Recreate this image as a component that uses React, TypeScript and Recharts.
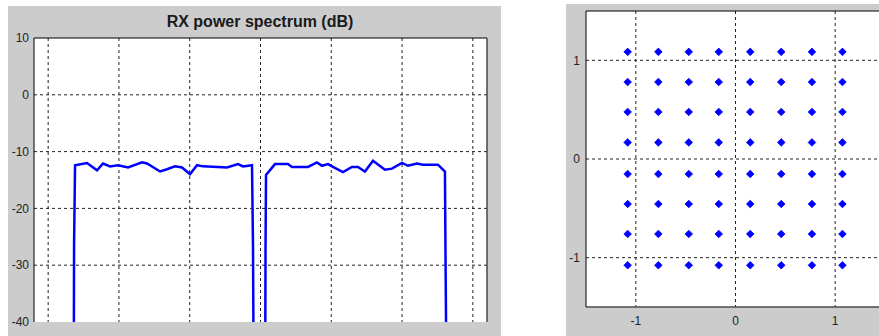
import {
  CartesianGrid,
  Line,
  LineChart,
  ReferenceLine,
  Scatter,
  ScatterChart,
  XAxis,
  YAxis
} from "recharts";

// spectrum: frequency (normalised, grid every 1) and power in dB
const freqs = [
  -2.64, -2.634, -2.62, -2.451, -2.309, -2.225, -2.126, -2.013, -1.871, -1.674, -1.603, -1.419,
  -1.321, -1.208, -1.109, -0.996, -0.897, -0.812, -0.473, -0.318, -0.247, -0.12, -0.106, -0.092,
  0.064, 0.071, 0.078, 0.205, 0.388, 0.445, 0.671, 0.798, 0.869, 0.953, 1.024, 1.165, 1.292,
  1.377, 1.476, 1.589, 1.758, 1.857, 1.999, 2.083, 2.21, 2.295, 2.507, 2.606, 2.613, 2.634
];
const powers = [
  -60, -26.5, -12.4, -12.0, -13.3, -12.1, -12.6, -12.4, -12.8, -11.9, -12.1, -13.5,
  -13.1, -12.6, -12.8, -14.0, -12.4, -12.6, -12.8, -12.2, -12.6, -12.4, -26.5, -60,
  -60, -27, -14.1, -12.2, -12.2, -12.7, -12.7, -11.9, -12.5, -12.2, -12.7, -13.6, -12.7,
  -12.7, -13.5, -11.6, -13.2, -13.0, -12.0, -12.5, -12.1, -12.3, -12.3, -13.5, -26.9, -60
];
const freqTicks = [-3, -2, -1, 0, 1, 2, 3];
const dbTicks = [10, 0, -10, -20, -30, -40];
const dbGrid = [0, -10, -20, -30];

// received 64-QAM constellation: in-phase columns, quadrature rows
const iLevels = [-1.082, -0.774, -0.469, -0.168, 0.148, 0.459, 0.767, 1.073];
const qLevels = [1.086, 0.78, 0.477, 0.168, -0.152, -0.456, -0.76, -1.077];
const iqTicks = [-1, 0, 1];

const spectrum = freqs.map((f, i) => ({ f, p: powers[i] }));
const constellation = qLevels.flatMap((q) => iLevels.map((i) => ({ i, q })));

const font = "'Liberation Sans', Arial, sans-serif";
const tickStyle = { fontSize: 12, fill: "#222", fontFamily: font };
const grey = "#cccccc";

export default function App() {
  return (
    <div
      style={{
        position: "fixed",
        left: 0,
        top: 0,
        width: 879,
        height: 336,
        overflow: "hidden",
        background: "#fff",
        fontFamily: font
      }}
    >
      <div style={{ position: "absolute", left: 8, top: 6, width: 493, height: 330, background: grey }}>
        <div
          style={{
            position: "absolute",
            left: 0,
            top: 6,
            width: 504,
            textAlign: "center",
            fontSize: 16,
            fontWeight: "bold",
            color: "#1a1a1a",
            lineHeight: "20px"
          }}
        >
          RX power spectrum (dB)
        </div>
        <LineChart width={493} height={330} data={spectrum} margin={{ top: 32, right: 14, bottom: 14, left: 0 }}>
          <CartesianGrid
            fill="#fff"
            stroke="#222"
            strokeDasharray="3 3"
            horizontalValues={dbGrid}
            verticalValues={freqTicks}
          />
          <XAxis
            type="number"
            dataKey="f"
            domain={[-3.2, 3.2]}
            ticks={freqTicks}
            allowDataOverflow
            tick={() => <g />}
            tickLine={false}
            height={0}
            axisLine={{ stroke: "#4a4a4a", strokeWidth: 1.5 }}
          />
          <YAxis
            type="number"
            domain={[-40, 10]}
            ticks={dbTicks}
            allowDataOverflow
            width={26}
            tickLine={false}
            tickSize={5}
            tickMargin={0}
            tick={tickStyle}
            axisLine={{ stroke: "#000" }}
          />
          <ReferenceLine y={10} stroke="#000" />
          <ReferenceLine x={3.2} stroke="#4a4a4a" strokeWidth={1.5} />
          <Line
            type="linear"
            dataKey="p"
            stroke="#0000ff"
            strokeWidth={2.5}
            dot={false}
            isAnimationActive={false}
          />
        </LineChart>
      </div>

      <div style={{ position: "absolute", left: 566, top: 4, width: 340, height: 332, background: grey }}>
        <ScatterChart width={330} height={332} margin={{ top: 7, right: 11, bottom: 7, left: 0 }}>
          <CartesianGrid
            fill="#fff"
            stroke="#222"
            strokeDasharray="3 3"
            horizontalValues={iqTicks}
            verticalValues={iqTicks}
          />
          <XAxis
            type="number"
            dataKey="i"
            domain={[-1.5, 1.5]}
            ticks={iqTicks}
            allowDataOverflow
            height={22}
            tickLine={false}
            tickSize={9}
            tickMargin={0}
            tick={tickStyle}
            axisLine={{ stroke: "#4a4a4a", strokeWidth: 1.5 }}
          />
          <YAxis
            type="number"
            dataKey="q"
            domain={[-1.5, 1.5]}
            ticks={iqTicks}
            allowDataOverflow
            width={20}
            tickLine={false}
            tickSize={6}
            tickMargin={0}
            tick={tickStyle}
            axisLine={{ stroke: "#000" }}
          />
          <ReferenceLine y={1.5} stroke="#000" />
          <Scatter
            data={constellation}
            isAnimationActive={false}
            shape={(props: any) => (
              <path
                d={`M${props.cx},${props.cy - 3.8}L${props.cx + 3.8},${props.cy}L${props.cx},${props.cy + 3.8}L${props.cx - 3.8},${props.cy}Z`}
                fill="#0000ff"
                stroke="#0000ff"
                strokeWidth={0.8}
                strokeLinejoin="round"
              />
            )}
          />
        </ScatterChart>
      </div>
    </div>
  );
}
